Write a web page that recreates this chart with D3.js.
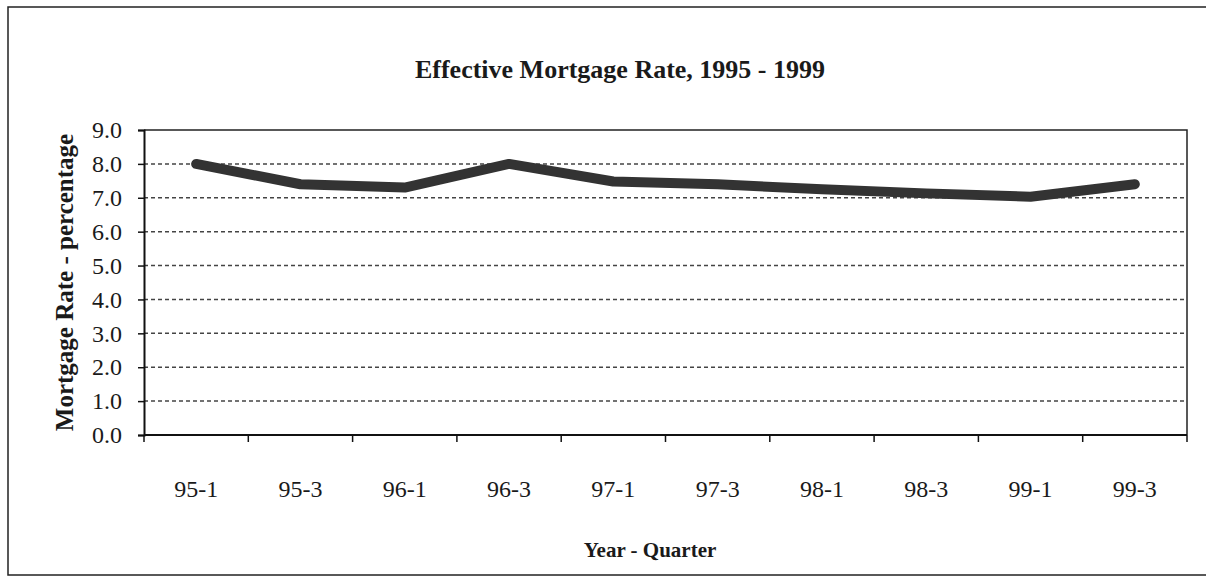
<!DOCTYPE html>
<html><head><meta charset="utf-8">
<script src="https://cdn.jsdelivr.net/npm/d3@7"></script>
<style>
html,body{margin:0;padding:0;background:#fff;}
svg{display:block;}
text{font-family:"Liberation Serif","Times New Roman",serif;fill:#1a1a1a;}
</style></head>
<body>
<svg id="chart" width="1206" height="578"></svg>
<script>
const categories = ["95-1","95-3","96-1","96-3","97-1","97-3","98-1","98-3","99-1","99-3"];
const rates = [8.0, 7.4, 7.3, 8.0, 7.48, 7.4, 7.25, 7.13, 7.03, 7.4];
const yTicks = [0,1,2,3,4,5,6,7,8,9];
const titleText = "Effective Mortgage Rate, 1995 - 1999";
const xTitle = "Year - Quarter";
const yTitle = "Mortgage Rate - percentage";

const svg = d3.select("#chart");
const m = {left:144, right:1187, top:130, bottom:435};

// outer frame
svg.append("rect").attr("x",8).attr("y",7).attr("width",1230).attr("height",568)
  .attr("fill","none").attr("stroke","#222").attr("stroke-width",1.5);

const x = d3.scaleBand().domain(categories).range([m.left,m.right]).padding(0);
const y = d3.scaleLinear().domain([0,9]).range([m.bottom,m.top]);

// gridlines
svg.append("g").selectAll("line").data(yTicks.filter(d=>d>0 && d<9)).join("line")
  .attr("x1",m.left).attr("x2",m.right).attr("y1",d=>y(d)).attr("y2",d=>y(d))
  .attr("stroke","#444").attr("stroke-width",1.5).attr("stroke-dasharray","4,3");

// plot frame top/right
svg.append("path").attr("d",`M${m.left},${m.top}H${m.right}V${m.bottom}`)
  .attr("fill","none").attr("stroke","#222").attr("stroke-width",1.5);

// y axis
const yAxis = svg.append("g").attr("transform",`translate(${m.left},0)`)
  .call(d3.axisLeft(y).tickValues(yTicks).tickFormat(d3.format(".1f")).tickSize(6).tickPadding(16));
yAxis.select(".domain").attr("stroke","#111").attr("stroke-width",2);
yAxis.selectAll(".tick line").attr("stroke","#111").attr("stroke-width",1.5);
yAxis.selectAll("text").attr("font-size",24).attr("font-family","Liberation Serif").attr("fill","#1a1a1a");

// x axis with ticks at boundaries
const xAxisG = svg.append("g").attr("transform",`translate(0,${m.bottom})`);
xAxisG.append("line").attr("x1",m.left).attr("x2",m.right).attr("stroke","#111").attr("stroke-width",2);
const bounds = categories.map(c=>x(c)).concat([x(categories[categories.length-1])+x.bandwidth()]);
xAxisG.selectAll("line.tk").data(bounds).join("line").attr("class","tk")
  .attr("x1",d=>d).attr("x2",d=>d).attr("y1",0).attr("y2",7).attr("stroke","#111").attr("stroke-width",1.5);
xAxisG.selectAll("text").data(categories).join("text")
  .attr("x",d=>x(d)+x.bandwidth()/2).attr("y",62).attr("text-anchor","middle")
  .attr("font-size",24).text(d=>d);

// line
const line = d3.line().x((d,i)=>x(categories[i])+x.bandwidth()/2).y(d=>y(d));
svg.append("path").datum(rates).attr("d",line).attr("fill","none")
  .attr("stroke","#333").attr("stroke-width",10).attr("stroke-linejoin","round").attr("stroke-linecap","round");

// titles
svg.append("text").attr("x",620).attr("y",78).attr("text-anchor","middle")
  .attr("font-size",26).attr("font-weight","bold").text(titleText);
svg.append("text").attr("x",650).attr("y",557).attr("text-anchor","middle")
  .attr("font-size",21).attr("font-weight","bold").text(xTitle);
svg.append("text").attr("transform",`translate(73,${(m.top+m.bottom)/2}) rotate(-90)`)
  .attr("text-anchor","middle").attr("font-size",25).attr("font-weight","bold").text(yTitle);
</script>
</body></html>
